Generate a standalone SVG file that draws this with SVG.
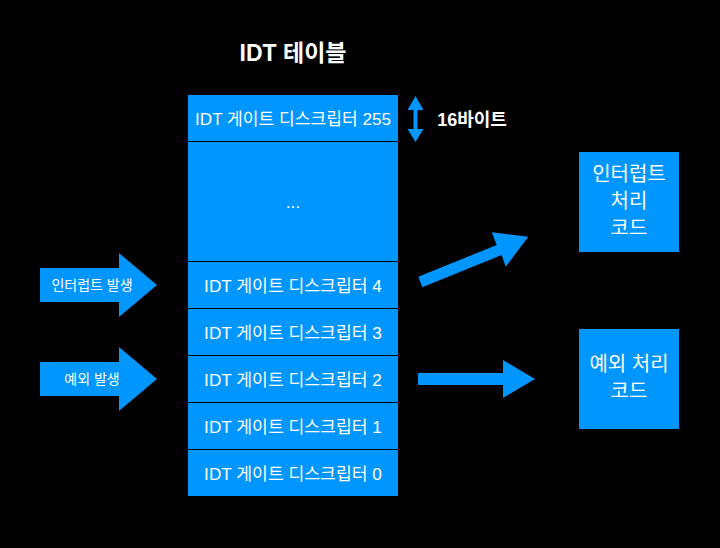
<svg xmlns="http://www.w3.org/2000/svg" width="720" height="548" viewBox="0 0 720 548">
<style>
text{font-family:"Liberation Sans","Noto Sans CJK KR",sans-serif;fill:#fff;text-anchor:middle}
.row{fill:#0096FF}
.rt{font-size:17.2px}
.arr{fill:#0096FF}
.bt{font-size:20px}
.lt{font-size:14px}
</style>
<rect width="720" height="548" fill="#000"/>
<text x="293" y="61" style="font-size:23px;font-weight:bold">IDT 테이블</text>
<g id="idt-table">
<g id="row255"><rect class="row" x="188" y="95" width="210" height="46"/><text class="rt" x="293" y="125" style="font-size:17.1px">IDT 게이트 디스크립터 255</text></g>
<g id="row-dots"><rect class="row" x="188" y="142" width="210" height="119"/><text class="rt" x="293" y="208">...</text></g>
<g id="row4"><rect class="row" x="188" y="262" width="210" height="46"/><text class="rt" x="293" y="292">IDT 게이트 디스크립터 4</text></g>
<g id="row3"><rect class="row" x="188" y="309" width="210" height="46"/><text class="rt" x="293" y="339">IDT 게이트 디스크립터 3</text></g>
<g id="row2"><rect class="row" x="188" y="356" width="210" height="46"/><text class="rt" x="293" y="386">IDT 게이트 디스크립터 2</text></g>
<g id="row1"><rect class="row" x="188" y="403" width="210" height="46"/><text class="rt" x="293" y="433">IDT 게이트 디스크립터 1</text></g>
<g id="row0"><rect class="row" x="188" y="450" width="210" height="46"/><text class="rt" x="293" y="480">IDT 게이트 디스크립터 0</text></g>
</g>
<g id="size-label">
<polygon class="arr" points="415.5,96 423.5,110 417.5,110 417.5,129 423.5,129 415.5,142 407.5,129 413.5,129 413.5,110 407.5,110"/>
<text x="472" y="126" style="font-size:18px;font-weight:bold">16바이트</text>
</g>
<g id="interrupt-event">
<polygon class="arr" points="40,268 119,268 119,253 157,285 119,317 119,302 40,302"/>
<text class="lt" x="92" y="290">인터럽트 발생</text>
</g>
<g id="exception-event">
<polygon class="arr" points="40,362 119,362 119,347 157,379 119,411 119,396 40,396"/>
<text class="lt" x="92" y="384">예외 발생</text>
</g>
<g id="interrupt-handler">
<rect class="row" x="579" y="152" width="100" height="100"/>
<text class="bt" x="629" y="181">인터럽트</text>
<text class="bt" x="629" y="208">처리</text>
<text class="bt" x="629" y="235">코드</text>
</g>
<g id="exception-handler">
<rect class="row" x="579" y="329" width="100" height="100"/>
<text class="bt" x="629" y="371">예외 처리</text>
<text class="bt" x="629" y="398">코드</text>
</g>
<g id="connectors">
<polygon class="arr" points="418.3,276.7 496.7,245 491.7,232.3 528.3,236.7 505.7,266.7 501.7,255 422.3,287.3"/>
<polygon class="arr" points="418,373 503,373 503,360 535,379 503,398 503,385 418,385"/>
</g>
</svg>
